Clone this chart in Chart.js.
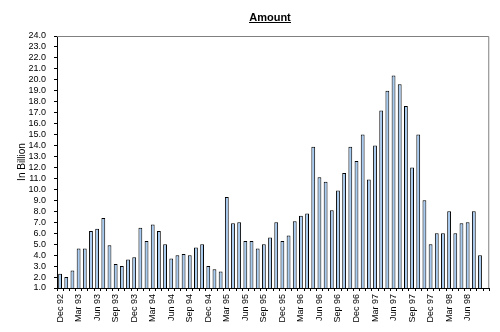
<!DOCTYPE html>
<html>
<head>
<meta charset="utf-8">
<title>Amount</title>
<script src="https://cdn.jsdelivr.net/npm/chart.js@4/dist/chart.umd.min.js"></script>
<style>
    html, body { margin: 0; padding: 0; background: #fff; }
    #wrap { width: 500px; height: 332px; position: relative; }
</style>
</head>
<body>
<div id="wrap"><canvas id="amountChart"></canvas></div>
<script>
// monthly amounts, Dec 92 .. Sep 98 (last month has no value)
const months = [
    'Dec 92', 'Jan 93', 'Feb 93', 'Mar 93', 'Apr 93', 'May 93', 'Jun 93', 'Jul 93', 'Aug 93', 'Sep 93', 'Oct 93', 'Nov 93',
    'Dec 93', 'Jan 94', 'Feb 94', 'Mar 94', 'Apr 94', 'May 94', 'Jun 94', 'Jul 94', 'Aug 94', 'Sep 94', 'Oct 94', 'Nov 94',
    'Dec 94', 'Jan 95', 'Feb 95', 'Mar 95', 'Apr 95', 'May 95', 'Jun 95', 'Jul 95', 'Aug 95', 'Sep 95', 'Oct 95', 'Nov 95',
    'Dec 95', 'Jan 96', 'Feb 96', 'Mar 96', 'Apr 96', 'May 96', 'Jun 96', 'Jul 96', 'Aug 96', 'Sep 96', 'Oct 96', 'Nov 96',
    'Dec 96', 'Jan 97', 'Feb 97', 'Mar 97', 'Apr 97', 'May 97', 'Jun 97', 'Jul 97', 'Aug 97', 'Sep 97', 'Oct 97', 'Nov 97',
    'Dec 97', 'Jan 98', 'Feb 98', 'Mar 98', 'Apr 98', 'May 98', 'Jun 98', 'Jul 98', 'Aug 98', ''
];

const amounts = [
    2.3, 2.0, 2.6, 4.6, 4.6, 6.2, 6.4, 7.4, 4.9, 3.2, 3.0, 3.6,
    3.8, 6.5, 5.3, 6.8, 6.2, 5.0, 3.7, 4.0, 4.1, 4.0, 4.7, 5.0,
    3.0, 2.7, 2.5, 9.3, 6.9, 7.0, 5.3, 5.3, 4.6, 5.0, 5.6, 7.0,
    5.3, 5.8, 7.1, 7.6, 7.8, 13.9, 11.1, 10.7, 8.1, 9.9, 11.5, 13.9,
    12.6, 15.0, 10.9, 14.0, 17.2, 19.0, 20.4, 19.6, 17.6, 12.0, 15.0, 9.0,
    5.0, 6.0, 6.0, 8.0, 6.0, 6.9, 7.0, 8.0, 4.0, null
];

const chartTitle = 'Amount';
const yTitle = 'In Billion';
const yMin = 1;
const yMax = 24;

const labelFont = "'Liberation Sans Narrow', 'Liberation Sans', Arial, sans-serif";

// Excel-like title: bold and underlined
const titlePlugin = {
    id: 'underlinedTitle',
    afterDraw(chart) {
        const ctx = chart.ctx;
        ctx.save();
        ctx.font = "bold 11px 'Liberation Sans', Arial, sans-serif";
        ctx.fillStyle = '#000';
        ctx.textAlign = 'center';
        ctx.textBaseline = 'alphabetic';
        const x = 270, y = 21;
        ctx.fillText(chartTitle, x, y);
        const w = ctx.measureText(chartTitle).width;
        ctx.fillRect(Math.round(x - w / 2), y + 1, Math.round(w), 1);
        ctx.restore();
    }
};

// gray top/right frame of the plot area
const framePlugin = {
    id: 'plotFrame',
    beforeDatasetsDraw(chart) {
        const a = chart.chartArea;
        const ctx = chart.ctx;
        ctx.save();
        ctx.strokeStyle = '#808080';
        ctx.lineWidth = 1;
        ctx.beginPath();
        ctx.moveTo(a.left, a.top + 0.5);
        ctx.lineTo(a.right - 0.5, a.top + 0.5);
        ctx.lineTo(a.right - 0.5, a.bottom);
        ctx.stroke();
        ctx.restore();
    }
};

new Chart(document.getElementById('amountChart'), {
    type: 'bar',
    data: {
        labels: months,
        datasets: [{
            data: amounts,
            backgroundColor: '#a6caf0',
            borderColor: '#000',
            borderWidth: 1,
            barPercentage: 0.62,
            categoryPercentage: 1.0
        }]
    },
    options: {
        responsive: true,
        maintainAspectRatio: false,
        animation: false,
        layout: {
            padding: { top: 36, right: 4, left: 0, bottom: 0 }
        },
        plugins: {
            legend: { display: false },
            tooltip: { enabled: false },
            title: { display: false }
        },
        scales: {
            x: {
                afterFit: (s) => { s.height = 44; },
                grid: {
                    drawOnChartArea: false,
                    tickLength: 3,
                    color: '#000',
                    offset: true
                },
                border: { color: '#000', width: 1 },
                ticks: {
                    autoSkip: false,
                    minRotation: 90,
                    maxRotation: 90,
                    padding: 3,
                    color: '#000',
                    font: { family: labelFont, size: 9 },
                    callback: function (value, index) {
                        return index % 3 === 0 ? this.getLabelForValue(value) : '';
                    }
                }
            },
            y: {
                min: yMin,
                max: yMax,
                afterFit: (s) => { s.width = 57; },
                grid: {
                    drawOnChartArea: false,
                    tickLength: 3,
                    color: '#000'
                },
                border: { color: '#000', width: 1 },
                ticks: {
                    stepSize: 1,
                    autoSkip: false,
                    padding: 8,
                    color: '#000',
                    font: { family: labelFont, size: 9 },
                    callback: (v) => v.toFixed(1)
                },
                title: {
                    display: true,
                    text: yTitle,
                    color: '#000',
                    font: { family: "'Liberation Sans', Arial, sans-serif", size: 10 },
                    padding: { top: 16, bottom: 0 }
                }
            }
        }
    },
    plugins: [titlePlugin, framePlugin]
});
</script>
</body>
</html>
